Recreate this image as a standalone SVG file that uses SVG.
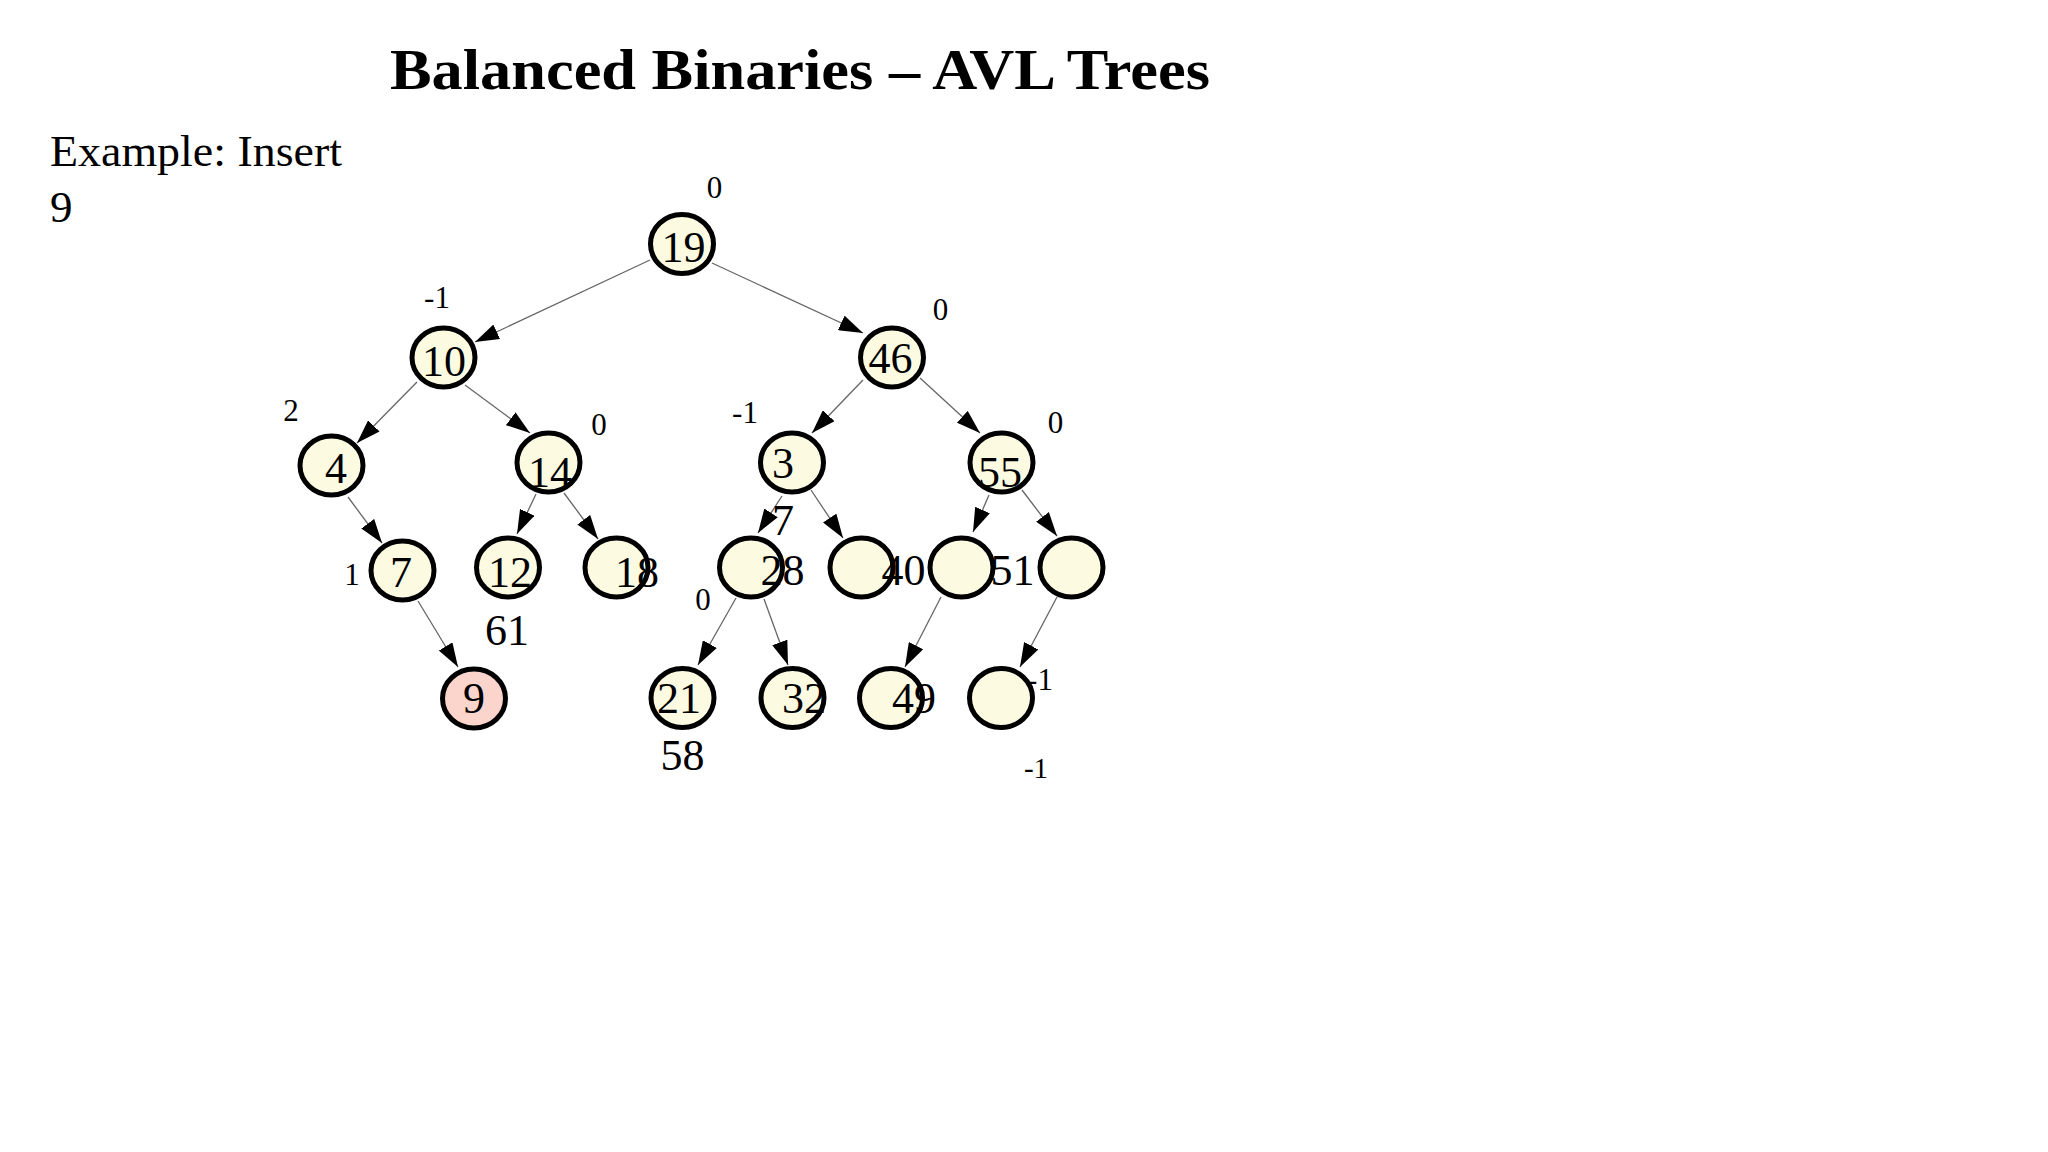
<svg xmlns="http://www.w3.org/2000/svg" width="2048" height="1152" viewBox="0 0 2048 1152">
<defs>
<style>
.t{font-family:"Liberation Serif","Times New Roman",serif;fill:#000}
.nl{font-size:44px;text-anchor:middle}
.sl{font-size:31px;text-anchor:middle}
.n{fill:#fcfbe2;stroke:#000;stroke-width:5}
.hot{fill:#fbd5cb}
.e{stroke:#666;stroke-width:1.3;fill:none;marker-end:url(#ah)}
</style>
<marker id="ah" markerUnits="userSpaceOnUse" markerWidth="24" markerHeight="16" refX="24" refY="8" orient="auto">
<path d="M0,0 L24,8 L0,16 z" fill="#000"/>
</marker>
</defs>
<rect width="2048" height="1152" fill="#fff"/>
<text class="t" x="390" y="89" font-size="58" font-weight="bold" textLength="820" lengthAdjust="spacingAndGlyphs">Balanced Binaries – AVL Trees</text>
<text class="t" x="50" y="166" font-size="45" textLength="292" lengthAdjust="spacingAndGlyphs">Example: Insert</text>
<text class="t" x="50" y="222" font-size="45">9</text>

<g id="connectors">
<line class="e" x1="650" y1="260" x2="475" y2="342"/>
<line class="e" x1="712" y1="263" x2="863" y2="333"/>
<line class="e" x1="417" y1="382" x2="357" y2="443"/>
<line class="e" x1="465" y1="385" x2="530" y2="433"/>
<line class="e" x1="863" y1="380" x2="812" y2="433"/>
<line class="e" x1="920" y1="378" x2="980" y2="433"/>
<line class="e" x1="348" y1="497" x2="382" y2="543"/>
<line class="e" x1="536" y1="494" x2="517" y2="534"/>
<line class="e" x1="564" y1="493" x2="598" y2="539"/>
<line class="e" x1="782" y1="496" x2="758" y2="533"/>
<line class="e" x1="811" y1="490" x2="843" y2="538"/>
<line class="e" x1="989" y1="495" x2="973" y2="532"/>
<line class="e" x1="1022" y1="490" x2="1057" y2="536"/>
<line class="e" x1="418" y1="601" x2="458" y2="667"/>
<line class="e" x1="736" y1="598" x2="698" y2="665"/>
<line class="e" x1="764" y1="599" x2="788" y2="665"/>
<line class="e" x1="941" y1="597" x2="905" y2="667"/>
<line class="e" x1="1057" y1="597" x2="1020" y2="667"/>
</g>

<g id="n19"><ellipse class="n" cx="682" cy="244" rx="31.5" ry="29.5"/><text class="t nl" x="683.5" y="262">19</text><text class="t sl" x="714.5" y="198">0</text></g>
<g id="n10"><ellipse class="n" cx="443.5" cy="357.5" rx="31.5" ry="29.5"/><text class="t nl" x="444" y="376">10</text><text class="t sl" x="437" y="308">-1</text></g>
<g id="n46"><ellipse class="n" cx="892" cy="357.5" rx="31.5" ry="29.5"/><text class="t nl" x="890.5" y="373">46</text><text class="t sl" x="940.5" y="320">0</text></g>
<g id="n4"><ellipse class="n" cx="331.5" cy="465.5" rx="31.5" ry="29.5"/><text class="t nl" x="336" y="483">4</text><text class="t sl" x="291" y="421">2</text></g>
<g id="n14"><ellipse class="n" cx="548.5" cy="462.5" rx="31.5" ry="29.5"/><text class="t nl" x="550" y="487">14</text><text class="t sl" x="599" y="435">0</text></g>
<g id="n3"><ellipse class="n" cx="792" cy="462.5" rx="31.5" ry="29.5"/><text class="t nl" x="783" y="478">3</text><text class="t sl" x="745" y="423">-1</text></g>
<g id="n55"><ellipse class="n" cx="1001.5" cy="462.5" rx="31.5" ry="29.5"/><text class="t nl" x="1000" y="487">55</text><text class="t sl" x="1055.5" y="433">0</text></g>
<g id="n7"><ellipse class="n" cx="402.5" cy="570.5" rx="31.5" ry="29.5"/><text class="t nl" x="401" y="587">7</text><text class="t sl" x="352" y="585">1</text></g>
<g id="n12"><ellipse class="n" cx="508" cy="567.5" rx="31.5" ry="29.5"/><text class="t nl" x="510" y="587">12</text><text class="t nl" x="507" y="645">61</text></g>
<g id="n18"><ellipse class="n" cx="616.5" cy="567.5" rx="31.5" ry="29.5"/><text class="t nl" x="637" y="587">18</text></g>
<g id="n28"><ellipse class="n" cx="751" cy="567.5" rx="31.5" ry="29.5"/><text class="t nl" x="782.5" y="585">28</text><text class="t nl" x="783" y="535">7</text><text class="t sl" x="703" y="610">0</text></g>
<g id="n40"><ellipse class="n" cx="861.5" cy="567.5" rx="31.5" ry="29.5"/><text class="t nl" x="903.5" y="585">40</text></g>
<g id="n51"><ellipse class="n" cx="961.5" cy="567.5" rx="31.5" ry="29.5"/><text class="t nl" x="1012.5" y="585">51</text></g>
<g id="nR"><ellipse class="n" cx="1071.5" cy="567.5" rx="31.5" ry="29.5"/></g>
<g id="n9"><ellipse class="n hot" cx="474" cy="698.5" rx="31.5" ry="29.5"/><text class="t nl" x="474" y="713">9</text></g>
<g id="n21"><ellipse class="n" cx="682.5" cy="698" rx="31.5" ry="29.5"/><text class="t nl" x="679" y="713">21</text><text class="t nl" x="682.5" y="770">58</text></g>
<g id="n32"><ellipse class="n" cx="792.5" cy="698" rx="31.5" ry="29.5"/><text class="t nl" x="804" y="713">32</text></g>
<g id="n49"><ellipse class="n" cx="891" cy="698" rx="31.5" ry="29.5"/><text class="t nl" x="914" y="713">49</text></g>
<g id="nL"><ellipse class="n" cx="1001" cy="698" rx="31.5" ry="29.5"/><text class="t sl" x="1040" y="690">-1</text><text class="t" x="1036" y="778" font-size="29" text-anchor="middle">-1</text></g>
</svg>
